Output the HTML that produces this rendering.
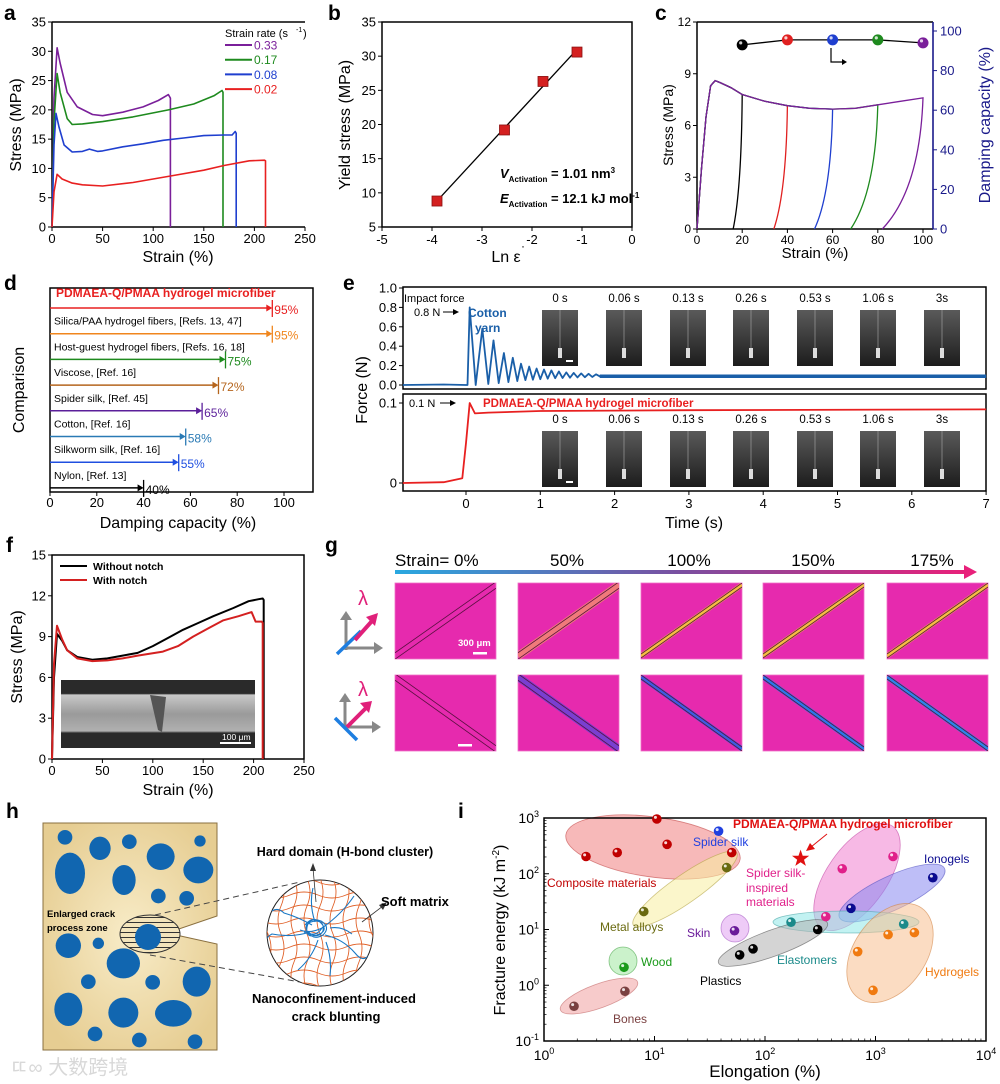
<!DOCTYPE html>
<html><head><meta charset="utf-8"><style>
html,body{margin:0;padding:0;background:#fff}
svg{display:block;font-family:"Liberation Sans","Noto Sans CJK SC",sans-serif}
</style></head><body>
<svg id="fig" xmlns="http://www.w3.org/2000/svg" width="1000" height="1084" viewBox="0 0 1000 1084">
<defs>
<linearGradient id="strainGrad" x1="0" x2="1" y1="0" y2="0"><stop offset="0" stop-color="#29a8e0"/><stop offset="0.5" stop-color="#7a4fa0"/><stop offset="1" stop-color="#e8207a"/></linearGradient>
<radialGradient id="beige" cx="0.5" cy="0.5" r="0.6"><stop offset="0" stop-color="#f8ecc8"/><stop offset="1" stop-color="#e6cd92"/></radialGradient>
<linearGradient id="photo" x1="0" x2="0" y1="0" y2="1"><stop offset="0" stop-color="#5a5a5a"/><stop offset="1" stop-color="#1c1c1c"/></linearGradient>
<linearGradient id="sem" x1="0" x2="0" y1="0" y2="1"><stop offset="0" stop-color="#2a2a2a"/><stop offset="0.2" stop-color="#2a2a2a"/><stop offset="0.22" stop-color="#c8c8c8"/><stop offset="0.5" stop-color="#9a9a9a"/><stop offset="0.75" stop-color="#b0b0b0"/><stop offset="0.78" stop-color="#2a2a2a"/><stop offset="1" stop-color="#2a2a2a"/></linearGradient>
<clipPath id="circClip"><circle cx="320" cy="933" r="53"/></clipPath>
<pattern id="hatch" width="6" height="5" patternUnits="userSpaceOnUse"><rect width="6" height="5" fill="#f3e4bb"/><line x1="0" y1="2.5" x2="6" y2="2.5" stroke="#333" stroke-width="1"/></pattern>
</defs>

<g font-weight="bold" font-size="21" fill="#000">
<text x="4" y="20">a</text>
<text x="328" y="20">b</text>
<text x="655" y="20">c</text>
<text x="4" y="290">d</text>
<text x="343" y="290">e</text>
<text x="6" y="552">f</text>
<text x="325" y="552">g</text>
<text x="6" y="818">h</text>
<text x="458" y="818">i</text>
</g>

<g id="panelG">
<text x="395" y="566" font-size="17">Strain= 0%</text>
<text x="567" y="566" font-size="17" text-anchor="middle">50%</text>
<text x="689" y="566" font-size="17" text-anchor="middle">100%</text>
<text x="813" y="566" font-size="17" text-anchor="middle">150%</text>
<text x="932" y="566" font-size="17" text-anchor="middle">175%</text>
<rect x="395" y="570" width="570" height="4" fill="url(#strainGrad)"/>
<polygon points="964,565 977,572 964,579" fill="#e8207a"/>
<g>
<line x1="346" y1="650" x2="346" y2="618" stroke="#888" stroke-width="3"/><polygon points="340,620 346,611 352,620" fill="#888"/>
<line x1="344" y1="648" x2="376" y2="648" stroke="#888" stroke-width="3"/><polygon points="374,642 383,648 374,654" fill="#888"/>
<line x1="337" y1="654" x2="361" y2="631" stroke="#1e7ee0" stroke-width="3.5"/>
<line x1="355" y1="640" x2="372" y2="621" stroke="#e0207a" stroke-width="4"/><polygon points="366,617 378,613 375,626" fill="#e0207a"/>
<text x="358" y="605" font-size="20" fill="#e0207a">λ</text></g>
<g>
<line x1="345" y1="728" x2="345" y2="700" stroke="#888" stroke-width="3"/><polygon points="339,702 345,693 351,702" fill="#888"/>
<line x1="343" y1="727" x2="374" y2="727" stroke="#888" stroke-width="3"/><polygon points="372,721 381,727 372,733" fill="#888"/>
<line x1="335" y1="718" x2="357" y2="740" stroke="#1e7ee0" stroke-width="3.5"/>
<line x1="347" y1="727" x2="366" y2="708" stroke="#e0207a" stroke-width="4"/><polygon points="360,703 372,701 369,713" fill="#e0207a"/>
<text x="358" y="696" font-size="20" fill="#e0207a">λ</text></g>
</g>

<g id="panelH">
<polygon points="43,823 217,823 217,916 167,933 217,944 217,1050 43,1050" fill="url(#beige)" stroke="#8a7040" stroke-width="1"/>
<g id="blobs" fill="#1166b0"></g>
<ellipse cx="150" cy="934" rx="30" ry="19" fill="url(#hatch)" stroke="#333" stroke-width="1"/>
<ellipse cx="148" cy="937" rx="13" ry="13" fill="#1166b0"/>
<line x1="155" y1="915" x2="300" y2="882" stroke="#444" stroke-dasharray="6,4"/>
<line x1="150" y1="955" x2="300" y2="982" stroke="#444" stroke-dasharray="6,4"/>
<text x="47" y="917" font-size="9.5" font-weight="bold">Enlarged crack</text>
<text x="47" y="931" font-size="9.5" font-weight="bold">process zone</text>
<circle cx="320" cy="933" r="53" fill="#fff" stroke="#222" stroke-width="1"/>
<g id="net" clip-path="url(#circClip)" fill="none" stroke="#e0622a" stroke-width="0.9"></g>
<g clip-path="url(#circClip)" fill="none" stroke="#1877c4" stroke-width="1.1">
<path d="M305,925 q8,-10 16,-2 q8,8 -4,12 q-12,4 -10,-8 q2,-10 14,-6 q10,6 2,14 q-10,6 -16,-4 q-4,-8 8,-10 q10,0 8,10 q-4,8 -14,2 M300,930 q10,4 22,-2 q-6,10 -18,4"/>
<path d="M315,922 q-6,-18 -2,-34 M322,928 q20,-14 32,-32 M325,935 q18,4 30,18 q8,10 14,2 M318,940 q-6,18 -20,30 M310,932 q-18,6 -38,2 q-8,4 -6,12 M312,925 q-14,-8 -28,-12 q-6,-6 -12,-2 M326,942 q6,16 4,34 M330,928 q12,-2 22,6"/>
</g>
<line x1="316" y1="902" x2="313" y2="868" stroke="#333" stroke-width="0.8"/><polygon points="310,871 313,863 316,871" fill="#333"/>
<line x1="362" y1="922" x2="383" y2="906" stroke="#333" stroke-width="0.8"/><polygon points="379,905 387,902 383,910" fill="#333"/>
<text x="345" y="856" font-size="12.5" font-weight="bold" text-anchor="middle">Hard domain (H-bond cluster)</text>
<text x="381" y="906" font-size="13" font-weight="bold">Soft matrix</text>
<text x="334" y="1003" font-size="13" font-weight="bold" text-anchor="middle">Nanoconfinement-induced</text>
<text x="336" y="1021" font-size="13" font-weight="bold" text-anchor="middle">crack blunting</text>
<text x="10" y="1074" font-size="20" fill="#d8d8d8">ㄸ∞ 大数跨境</text>
</g>
</svg>
<script>
const NS='http://www.w3.org/2000/svg';
const svg=document.getElementById('fig');
function mk(tag,attrs,parent){const e=document.createElementNS(NS,tag);for(const k in attrs)e.setAttribute(k,attrs[k]);(parent||svg).appendChild(e);return e;}
function txt(x,y,s,attrs,parent){const t=mk('text',Object.assign({x:x,y:y},attrs||{}),parent);t.textContent=s;return t;}

/* ---------- DATA ---------- */
const aStrain033=[0,2,5,8,15,25,40,50,70,90,105,115,117,117];
const aStress033=[0,22,30.6,28,23,20.5,19.2,19,19.6,20.5,21.6,22.6,22,0];
const aStrain017=[0,2,5,8,15,20,30,50,80,115,140,160,168,169,169];
const aStress017=[0,18,26.2,23,18.5,17.5,17.6,18,18.8,20,21,22.4,23.3,23,0];
const aStrain008=[0,2,4,7,12,20,30,37,45,50,70,90,110,130,150,170,178,181,182,182];
const aStress008=[0,14,19.4,17,14,12.8,12.9,13.3,12.9,13,13.7,14.2,14.8,15.2,15.6,15.7,15.7,16.3,16,0];
const aStrain002=[0,2,5,10,20,30,50,80,120,150,170,195,210,211,211];
const aStress002=[0,6,9,8.2,7.5,7.2,7,7.6,8.8,9.7,10.5,11.3,11.4,11.3,0];
const aLegend=['0.33','0.17','0.08','0.02'];
const aXTicks=[0,50,100,150,200,250];
const aYTicks=[0,5,10,15,20,25,30,35];
const bLnRate=[-3.9,-2.55,-1.78,-1.1];
const bYield=[8.8,19.2,26.3,30.6];
const bXTicks=[-5,-4,-3,-2,-1,0];
const bYTicks=[5,10,15,20,25,30,35];
const cLoadStrain=[0,2,4,6,8,10,15,20,30,40,50,60,70,80,90,100];
const cLoadStress=[0,3.5,6.5,8.3,8.6,8.5,8.2,7.8,7.4,7.15,7.0,6.95,7.0,7.2,7.4,7.6];
const cMaxStrain=[20,40,60,80,100];
const cResidual=[16,34,52,68,82];
const cDamping=[93,95.5,95.5,95.5,94];
const cXTicks=[0,20,40,60,80,100];
const cYTicks=[0,3,6,9,12];
const cRTicks=[0,20,40,60,80,100];
const dLabels=['PDMAEA-Q/PMAA hydrogel microfiber','Silica/PAA hydrogel fibers, [Refs. 13, 47]','Host-guest hydrogel fibers, [Refs. 16, 18]','Viscose, [Ref. 16]','Spider silk, [Ref. 45]','Cotton, [Ref. 16]','Silkworm silk, [Ref. 16]','Nylon, [Ref. 13]'];
const dValues=[95,95,75,72,65,58,55,40];
const dXTicks=[0,20,40,60,80,100];
const eCottonT=[-0.85,-0.3,0,0.02,0.05,0.13,0.22,0.3,0.37,0.44,0.51,0.57,0.63,0.69,0.74,0.8,0.85,0.9,0.95,1.0,1.05,1.1,1.15,1.2,1.25,1.3,1.35,1.4,1.45,1.5,1.55,1.6,1.65,1.7,1.75,1.8,7];
const eCottonF=[0.0,0.005,0.0,0.0,0.8,0.0,0.58,0.01,0.46,0.02,0.33,0.03,0.28,0.04,0.22,0.05,0.19,0.055,0.17,0.06,0.16,0.065,0.15,0.07,0.14,0.072,0.13,0.075,0.125,0.078,0.12,0.08,0.115,0.082,0.11,0.09,0.09];
const eFiberT=[-0.85,-0.3,-0.05,0.0,0.05,0.12,0.3,1,3,7];
const eFiberF=[0,0.001,0.006,0.05,0.1,0.087,0.088,0.09,0.091,0.092];
const eSnapLabels=['0 s','0.06 s','0.13 s','0.26 s','0.53 s','1.06 s','3s'];
const eXTicks=[0,1,2,3,4,5,6,7];
const eYTicksTop=[0,0.2,0.4,0.6,0.8,1.0];
const eYTicksBot=[0,0.1];
const fStrainNo=[0,2,5,10,15,25,40,55,70,85,100,115,130,145,160,180,195,205,209,210,210];
const fStressNo=[0,6,9.2,8.7,8.0,7.5,7.3,7.4,7.6,7.8,8.3,8.9,9.5,10.0,10.5,11.1,11.6,11.75,11.8,11.7,0];
const fStrainNotch=[0,2,5,10,15,25,40,55,70,85,110,125,140,155,170,185,198,202,205,208,209,209];
const fStressNotch=[0,7,9.8,8.8,8.0,7.4,7.2,7.25,7.4,7.6,7.9,8.3,9.0,9.6,10.2,10.5,10.8,10.1,10.1,10.1,10.0,0];
const fXTicks=[0,50,100,150,200,250];
const fYTicks=[0,3,6,9,12,15];
const iClasses=['Composite materials','Spider silk','Metal alloys','Skin','Wood','Bones','Plastics','Elastomers','Spider silk-inspired','Ionogels','Hydrogels'];
const iElong=[[2.4,4.6,10.5,13,50],[38],[45,8],[53],[5.3],[1.87,5.4],[59,78,300],[172,1800],[355,500,1440],[600,3300],[690,1300,2250,950]];
const iEnergy=[[204,240,960,337,240],[580],[129,21],[9.5],[2.1],[0.42,0.78],[3.5,4.5,10],[13.5,12.5],[17,123,204],[24,85],[4.0,8.1,8.8,0.81]];
const iStarElong=[210];
const iStarEnergy=[187];
const iXTicks=[0,1,2,3,4];
const iYTicks=[-1,0,1,2,3];

function polyline(xs,ys,sx,sy,stroke,w,parent){let d='';for(let i=0;i<xs.length;i++){d+=(i?'L':'M')+sx(xs[i]).toFixed(1)+','+sy(ys[i]).toFixed(1);}
  return mk('path',{d:d,fill:'none',stroke:stroke,'stroke-width':w,'stroke-linejoin':'round'},parent);}

/* ---------- panel a ---------- */
(function(){
const g=mk('g',{});


const X0=52,X1=305,Y0=227,Y1=22;
const xa=v=>X0+v*(X1-X0)/250, ya=v=>Y0-v*(Y0-Y1)/35;
const ax=mk('path',{d:`M${X0},${Y1}L${X1},${Y1}M${X0},${Y1}L${X0},${Y0}L${X1},${Y0}`,fill:'none',stroke:'#000','stroke-width':1.5},g);


aXTicks.forEach(v=>{mk('line',{x1:xa(v),x2:xa(v),y1:Y0,y2:Y0+4,stroke:'#000'},g);const t=txt(xa(v),Y0+16,String(v),{'font-size':13,'text-anchor':'middle'},g);

});
aYTicks.forEach(v=>{mk('line',{x1:X0-4,x2:X0,y1:ya(v),y2:ya(v),stroke:'#000'},g);const t=txt(X0-6,ya(v)+4.5,String(v),{'font-size':13,'text-anchor':'end'},g);

});
const xt=txt(178,262,'Strain (%)',{'font-size':16,'text-anchor':'middle'},g);


const yt=txt(0,0,'Stress (MPa)',{'font-size':16,'text-anchor':'middle',transform:`translate(21,125) rotate(-90)`},g);


const cols=['#7a1f9a','#1e8a1e','#1f3fcf','#e82020'];
const sets=[[aStrain033,aStress033],[aStrain017,aStress017],[aStrain008,aStress008],[aStrain002,aStress002]];
sets.forEach((s,i)=>{const p=polyline(s[0],s[1],xa,ya,cols[i],1.6,g);

});
const lt=txt(225,37,'Strain rate (s',{'font-size':11},g);


txt(296,32,'-1',{'font-size':7},g);txt(303,37,')',{'font-size':11},g);
aLegend.forEach((l,i)=>{const y=45+i*14.7;mk('line',{x1:225,x2:252,y1:y,y2:y,stroke:cols[i],'stroke-width':2},g);
const t=txt(254,y+4.5,l,{'font-size':12,fill:cols[i]},g);

});
})();

/* ---------- panel b ---------- */
(function(){
const g=mk('g',{});


const X0=382,X1=632,Y0=227,Y1=22;
const xb=v=>X1+v*(X1-X0)/5, yb=v=>Y0-(v-5)*(Y0-Y1)/30;
const box=mk('rect',{x:X0,y:Y1,width:X1-X0,height:Y0-Y1,fill:'none',stroke:'#000','stroke-width':1.5},g);


bXTicks.forEach(v=>{mk('line',{x1:xb(v),x2:xb(v),y1:Y0,y2:Y0+4,stroke:'#000'},g);const t=txt(xb(v),Y0+17,String(v),{'font-size':13,'text-anchor':'middle'},g);

});
bYTicks.forEach(v=>{mk('line',{x1:X0-4,x2:X0,y1:yb(v),y2:yb(v),stroke:'#000'},g);const t=txt(X0-6,yb(v)+4.5,String(v),{'font-size':13,'text-anchor':'end'},g);

});
const xt=txt(506,262,'Ln ε',{'font-size':16,'text-anchor':'middle'},g);


txt(521,250,'·',{'font-size':12},g);
const yt=txt(0,0,'Yield stress (MPa)',{'font-size':16,'text-anchor':'middle',transform:`translate(350,125) rotate(-90)`},g);


const n=bLnRate.length;let mx=0,my=0;for(let i=0;i<n;i++){mx+=bLnRate[i];my+=bYield[i];}mx/=n;my/=n;
let sxy=0,sxx=0;for(let i=0;i<n;i++){sxy+=(bLnRate[i]-mx)*(bYield[i]-my);sxx+=(bLnRate[i]-mx)**2;}
const k=sxy/sxx,b0=my-k*mx;const xa=Math.min(...bLnRate),xz=Math.max(...bLnRate);
const fit=mk('line',{x1:xb(xa),y1:yb(k*xa+b0),x2:xb(xz),y2:yb(k*xz+b0),stroke:'#000','stroke-width':1.3},g);


for(let i=0;i<n;i++){const r=mk('rect',{x:xb(bLnRate[i])-5,y:yb(bYield[i])-5,width:10,height:10,fill:'#d42020',stroke:'#8a1010','stroke-width':0.8},g);

}
const t1=mk('text',{x:500,y:178,'font-size':13,'font-weight':'bold'},g);


t1.innerHTML='<tspan font-style="italic">V</tspan><tspan font-size="8" dy="4">Activation</tspan><tspan dy="-4"> = 1.01 nm</tspan><tspan font-size="8" dy="-5">3</tspan>';
const t2=mk('text',{x:500,y:203,'font-size':13,'font-weight':'bold'},g);


t2.innerHTML='<tspan font-style="italic">E</tspan><tspan font-size="8" dy="4">Activation</tspan><tspan dy="-4"> = 12.1 kJ mol</tspan><tspan font-size="8" dy="-5">-1</tspan>';
})();

/* ---------- panel c ---------- */
(function(){
const g=mk('g',{});


const X0=697,X1=923,XR=933,Y0=229,Y1=22;
const xc=v=>X0+v*(X1-X0)/100, yc=v=>Y0-v*(Y0-Y1)/12, yr=v=>Y0-v*1.98;
mk('path',{d:`M${X0},${Y1}L${XR},${Y1}M${X0},${Y1}L${X0},${Y0}L${XR},${Y0}`,fill:'none',stroke:'#000','stroke-width':1.5},g);
const ra=mk('line',{x1:XR,x2:XR,y1:Y1,y2:Y0,stroke:'#1a1a8a','stroke-width':1.6},g);


cXTicks.forEach(v=>{mk('line',{x1:xc(v),x2:xc(v),y1:Y0,y2:Y0+4,stroke:'#000'},g);const t=txt(xc(v),Y0+15,String(v),{'font-size':12,'text-anchor':'middle'},g);

});
cYTicks.forEach(v=>{mk('line',{x1:X0-4,x2:X0,y1:yc(v),y2:yc(v),stroke:'#000'},g);const t=txt(X0-6,yc(v)+4,String(v),{'font-size':12,'text-anchor':'end'},g);

});
cRTicks.forEach(v=>{mk('line',{x1:XR,x2:XR+4,y1:yr(v),y2:yr(v),stroke:'#1a1a8a'},g);const t=txt(XR+7,yr(v)+4.5,String(v),{'font-size':13,fill:'#1a1a8a'},g);

});
const xt=txt(815,258,'Strain (%)',{'font-size':15,'text-anchor':'middle'},g);


const yt=txt(0,0,'Stress (MPa)',{'font-size':14,'text-anchor':'middle',transform:`translate(673,125) rotate(-90)`},g);


const rt=txt(0,0,'Damping capacity (%)',{'font-size':16,'text-anchor':'middle',fill:'#1a1a8a',transform:`translate(990,125) rotate(-90)`},g);


const cols=['#000','#e02020','#1f3fcf','#1e8a1e','#7a1f9a'];
function interp(x){for(let i=1;i<cLoadStrain.length;i++){if(x<=cLoadStrain[i]){const t=(x-cLoadStrain[i-1])/(cLoadStrain[i]-cLoadStrain[i-1]);return cLoadStress[i-1]+t*(cLoadStress[i]-cLoadStress[i-1]);}}return cLoadStress[cLoadStress.length-1];}
cMaxStrain.forEach((m,i)=>{let d='';const xs=cLoadStrain.filter(v=>v<m).concat([m]);xs.forEach((v,j)=>{d+=(j?'L':'M')+xc(v).toFixed(1)+','+yc(interp(v)).toFixed(1);});
const s=interp(m);d+=`Q${xc(m-(m-cResidual[i])*0.08)},${yc(s*0.3)} ${xc(cResidual[i])},${yc(0)}`;
const p=mk('path',{d:d,fill:'none',stroke:cols[i],'stroke-width':1.3},g);

});
let d='';cMaxStrain.forEach((m,i)=>{d+=(i?'L':'M')+xc(m)+','+yr(cDamping[i]);});
const dl=mk('path',{d:d,fill:'none',stroke:'#000','stroke-width':1.3},g);


cMaxStrain.forEach((m,i)=>{const c=mk('circle',{cx:xc(m),cy:yr(cDamping[i]),r:5.5,fill:cols[i]},g);


mk('circle',{cx:xc(m)-1.5,cy:yr(cDamping[i])-2,r:1.6,fill:'#fff',opacity:0.8},g);});
mk('path',{d:`M831,48L831,62L843,62`,fill:'none',stroke:'#000','stroke-width':1.2},g);
mk('polygon',{points:'842,59 847,62 842,65',fill:'#000'},g);
})();

/* ---------- panel d ---------- */
(function(){
const g=mk('g',{});


const X0=50,XR=313,Y0=492,Y1=288;
const xd=v=>X0+v*2.34;
const box=mk('rect',{x:X0,y:Y1,width:XR-X0,height:Y0-Y1,fill:'none',stroke:'#000','stroke-width':1.5},g);


dXTicks.forEach(v=>{mk('line',{x1:xd(v),x2:xd(v),y1:Y0,y2:Y0+4,stroke:'#000'},g);const t=txt(xd(v),Y0+15,String(v),{'font-size':13,'text-anchor':'middle'},g);

});
const xt=txt(178,528,'Damping capacity (%)',{'font-size':16,'text-anchor':'middle'},g);


const yt=txt(0,0,'Comparison',{'font-size':16,'text-anchor':'middle',transform:`translate(24,390) rotate(-90)`},g);


const cols=['#e82020','#f0861d','#1e8a1e','#b5651d','#5b1f9a','#2a7ab5','#1f4fe0','#000'];
dValues.forEach((v,i)=>{const y=308+i*25.7;const x=xd(v);
const l=mk('line',{x1:X0,x2:x-5,y1:y,y2:y,stroke:cols[i],'stroke-width':1.5},g);


mk('polygon',{points:`${x-6},${y-3.5} ${x},${y} ${x-6},${y+3.5}`,fill:cols[i]},g);
mk('line',{x1:x,x2:x,y1:y-8,y2:y+9,stroke:cols[i],'stroke-width':1.3},g);
const p=txt(x+2,y+6,v+'%',{'font-size':12,fill:cols[i]},g);


const t=txt(i?54:56,y-(i?9:11),dLabels[i],i?{'font-size':10.5}:{'font-size':12,'font-weight':'bold',fill:'#e82020'},g);

});
})();

/* ---------- panel e ---------- */
(function(){
const g=mk('g',{});


const X0=403,X1=986;
const xe=v=>466+v*74.3;
const yTop=v=>385-v*97, yBot=v=>483-v*800;
const b1=mk('rect',{x:X0,y:287,width:X1-X0,height:102,fill:'none',stroke:'#000','stroke-width':1.5},g);


const b2=mk('rect',{x:X0,y:394,width:X1-X0,height:97,fill:'none',stroke:'#000','stroke-width':1.5},g);


eXTicks.forEach(v=>{mk('line',{x1:xe(v),x2:xe(v),y1:491,y2:495,stroke:'#000'},g);const t=txt(xe(v),508,String(v),{'font-size':13,'text-anchor':'middle'},g);

});
eYTicksTop.forEach(v=>{mk('line',{x1:X0-4,x2:X0,y1:yTop(v),y2:yTop(v),stroke:'#000'},g);const t=txt(X0-6,yTop(v)+4.5,v.toFixed(1),{'font-size':13,'text-anchor':'end'},g);

});
eYTicksBot.forEach(v=>{mk('line',{x1:X0-4,x2:X0,y1:yBot(v),y2:yBot(v),stroke:'#000'},g);const t=txt(X0-6,yBot(v)+4.5,String(v),{'font-size':13,'text-anchor':'end'},g);

});
const xt=txt(694,528,'Time (s)',{'font-size':16,'text-anchor':'middle'},g);


const yt=txt(0,0,'Force (N)',{'font-size':16,'text-anchor':'middle',transform:`translate(367,390) rotate(-90)`},g);


const c1=polyline(eCottonT,eCottonF,xe,yTop,'#1a5fa8',1.8,g);


const nT=eCottonT.length;
const tail=mk('line',{x1:xe(eCottonT[nT-2]),x2:xe(eCottonT[nT-1]),y1:yTop(eCottonF[nT-2]),y2:yTop(eCottonF[nT-1]),stroke:'#1a5fa8','stroke-width':3.5},g);


const c2=polyline(eFiberT,eFiberF,xe,yBot,'#e82020',1.8,g);


txt(404,302,'Impact force',{'font-size':11},g);
txt(414,316,'0.8 N',{'font-size':11},g);
mk('line',{x1:443,x2:455,y1:312,y2:312,stroke:'#000'},g);mk('polygon',{points:'453,309 459,312 453,315',fill:'#000'},g);
const cy=txt(468,317,'Cotton',{'font-size':12,'font-weight':'bold',fill:'#1a5fa8'},g);


txt(475,332,'yarn',{'font-size':12,'font-weight':'bold',fill:'#1a5fa8'},g);
txt(409,407,'0.1 N',{'font-size':11},g);
mk('line',{x1:440,x2:452,y1:403,y2:403,stroke:'#000'},g);mk('polygon',{points:'450,400 456,403 450,406',fill:'#000'},g);
const fl=txt(483,407,'PDMAEA-Q/PMAA hydrogel microfiber',{'font-size':11.5,'font-weight':'bold',fill:'#e82020'},g);


const px=[542,606,670,733,797,860,924];
[[310,302],[431,423]].forEach((r,ri)=>{eSnapLabels.forEach((l,i)=>{
const rr=mk('rect',{x:px[i],y:r[0],width:36,height:56,fill:'url(#photo)'},g);


mk('line',{x1:px[i]+18,x2:px[i]+18,y1:r[0],y2:r[0]+40,stroke:'#aaa','stroke-width':0.6},g);
mk('rect',{x:px[i]+16,y:r[0]+38,width:4,height:10,fill:'#ddd'},g);
if(i===0)mk('rect',{x:px[i]+24,y:r[0]+50,width:7,height:2,fill:'#fff'},g);
const t=txt(px[i]+18,r[1],l,{'font-size':11.5,'text-anchor':'middle'},g);

});});
})();

/* ---------- panel f ---------- */
(function(){
const g=mk('g',{});


const X0=52,X1=304,Y0=759,Y1=555;
const xf=v=>X0+v*(X1-X0)/250, yf=v=>Y0-v*(Y0-Y1)/15;
const box=mk('rect',{x:X0,y:Y1,width:X1-X0,height:Y0-Y1,fill:'none',stroke:'#000','stroke-width':1.5},g);


fXTicks.forEach(v=>{mk('line',{x1:xf(v),x2:xf(v),y1:Y0,y2:Y0+4,stroke:'#000'},g);const t=txt(xf(v),Y0+16,String(v),{'font-size':13,'text-anchor':'middle'},g);

});
fYTicks.forEach(v=>{mk('line',{x1:X0-4,x2:X0,y1:yf(v),y2:yf(v),stroke:'#000'},g);const t=txt(X0-6,yf(v)+4.5,String(v),{'font-size':13,'text-anchor':'end'},g);

});
const xt=txt(178,795,'Strain (%)',{'font-size':16,'text-anchor':'middle'},g);


const yt=txt(0,0,'Stress (MPa)',{'font-size':16,'text-anchor':'middle',transform:`translate(22,657) rotate(-90)`},g);


const sem=mk('rect',{x:61,y:680,width:194,height:68,fill:'url(#sem)'},g);


mk('path',{d:'M150,695 L158,730 L162,732 L166,697 Z',fill:'#555'},g);
mk('rect',{x:220,y:742,width:31,height:2,fill:'#fff'},g);
txt(222,740,'100 μm',{'font-size':8.5,fill:'#fff'},g);
const p1=polyline(fStrainNo,fStressNo,xf,yf,'#000',2,g);


const p2=polyline(fStrainNotch,fStressNotch,xf,yf,'#d42020',2,g);


mk('line',{x1:60,x2:87,y1:566,y2:566,stroke:'#000','stroke-width':2},g);
mk('line',{x1:60,x2:87,y1:580,y2:580,stroke:'#d42020','stroke-width':2},g);
const l1=txt(93,570,'Without notch',{'font-size':10.5,'font-weight':'bold'},g);


const l2=txt(93,584,'With notch',{'font-size':10.5,'font-weight':'bold'},g);


})();

/* ---------- panel g cells ---------- */
(function(){
const g=document.getElementById('panelG');
const cx=[395,518,641,763,887];
const topFill=['none','#f07a7a','#f3c040','#f3c040','#f3c040'];
const botFill=['none','#7a3fd0','#3c5fe0','#2a7ae8','#2a88e8'];
[[583,1],[675,-1]].forEach((r,ri)=>{cx.forEach((x,i)=>{
const rr=mk('rect',{x:x,y:r[0],width:101,height:76,fill:'#e62aae',stroke:'#f070c8','stroke-width':0.8},g);


const w=i===0?8:(i===1?8:5);const col=ri===0?topFill[i]:botFill[i];
let x1=x,x2=x+101,y1,y2;if(ri===0){y1=r[0]+73;y2=r[0]+2;}else{y1=r[0]+2;y2=r[0]+74;}
const cp='cl'+ri+i;const clip=mk('clipPath',{id:cp},g);mk('rect',{x:x,y:r[0],width:101,height:76},clip);
const gg=mk('g',{'clip-path':`url(#${cp})`},g);
if(col!=='none')mk('line',{x1:x1,y1:y1,x2:x2,y2:y2,stroke:col,'stroke-width':w},gg);
mk('line',{x1:x1,y1:y1+(ri===0?-w/2:w/2)*0.8,x2:x2,y2:y2+(ri===0?-w/2:w/2)*0.8,stroke:'#5a1040','stroke-width':0.8},gg);
mk('line',{x1:x1,y1:y1-(ri===0?-w/2:w/2)*0.8,x2:x2,y2:y2-(ri===0?-w/2:w/2)*0.8,stroke:'#5a1040','stroke-width':0.8},gg);
});});
txt(458,646,'300 μm',{'font-size':9.5,'font-weight':'bold',fill:'#fff'},g);
mk('rect',{x:473,y:652,width:14,height:2.5,fill:'#fff'},g);
mk('rect',{x:458,y:744,width:14,height:2.5,fill:'#fff'},g);
})();

/* ---------- panel h blobs & network ---------- */
(function(){
const b=document.getElementById('blobs');
const B=[[195,172,22,22],[300,205,32,35],[388,185,22,22],[600,183,17,17],[210,280,45,62],[482,230,42,40],[595,270,45,40],[372,300,35,45],[475,348,22,22],[560,355,22,22],[205,497,38,37],[295,490,17,17],[395,438,17,17],[370,550,50,45],[265,605,22,22],[458,607,22,22],[590,605,42,45],[205,688,42,50],[370,698,45,45],[520,700,55,40],[285,762,22,22],[418,780,22,22],[585,785,22,22]];
B.forEach(q=>{mk('ellipse',{cx:q[0]/3,cy:780+q[1]/3,rx:q[2]/3,ry:q[3]/3},b);});
const n=document.getElementById('net');
for(let k=0;k<9;k++){const x=268+k*13;mk('path',{d:`M${x},878 q6,14 0,28 q-6,14 0,28 q6,14 0,28 q-6,14 0,28`},n);}
for(let k=0;k<9;k++){const y=882+k*13;mk('path',{d:`M262,${y} q14,6 28,0 q14,-6 28,0 q14,6 28,0 q14,-6 28,0`},n);}
})();

/* ---------- panel i ---------- */
(function(){
const g=mk('g',{});


const X0=544,X1=986,Y0=1041,Y1=818;
const xi=v=>X0+Math.log10(v)*110.5, yi=v=>Y1+(3-Math.log10(v))*55.75;
const regions=[
 ['Composite materials',653,847,88,30,8,'#f08080','#c04040'],
 ['Metal alloys',685,889,63,14,-35,'#f8eea0','#b0a040'],
 ['Spider silk-inspired',857,877,62,30,-55,'#f080d0','#c040a0'],
 ['Ionogels',892,893,58,17,-25,'#8888f0','#5050c0'],
 ['Elastomers',846,922,73,11,0,'#90e8e8','#40a0a0'],
 ['Plastics',773,943,58,13,-20,'#b0b0b0','#505050'],
 ['Hydrogels',890,953,55,36,-55,'#f8c090','#d08040'],
 ['Skin',735,928,14,14,0,'#e0a0f0','#a050c0'],
 ['Wood',623,961,14,14,0,'#a0e8a0','#40a040'],
 ['Bones',599,996,41,12,-20,'#f0a0a0','#c06060']];
regions.forEach(r=>{const e=mk('ellipse',{cx:r[1],cy:r[2],rx:r[3],ry:r[4],transform:`rotate(${r[5]} ${r[1]} ${r[2]})`,fill:r[6],'fill-opacity':0.55,stroke:r[7],'stroke-opacity':0.6,'stroke-width':0.8},g);

});
const ax=mk('rect',{x:X0,y:Y1,width:X1-X0,height:Y0-Y1,fill:'none',stroke:'#000','stroke-width':1.5},g);


iXTicks.forEach(p=>{const x=xi(10**p);mk('line',{x1:x,x2:x,y1:Y0,y2:Y0-5,stroke:'#000'},g);
if(p<4)for(let m=2;m<10;m++){const xm=xi(m*10**p);mk('line',{x1:xm,x2:xm,y1:Y0,y2:Y0-2.5,stroke:'#000','stroke-width':0.7},g);}
const t=mk('text',{x:x,y:Y0+19,'font-size':14,'text-anchor':'middle'},g);t.innerHTML=`10<tspan font-size="9" dy="-6">${p}</tspan>`;

});
iYTicks.forEach(p=>{const y=yi(10**p);mk('line',{x1:X0,x2:X0+5,y1:y,y2:y,stroke:'#000'},g);
if(p<3)for(let m=2;m<10;m++){const ym=yi(m*10**p);mk('line',{x1:X0,x2:X0+2.5,y1:ym,y2:ym,stroke:'#000','stroke-width':0.7},g);}
const t=mk('text',{x:X0-5,y:y+5,'font-size':14,'text-anchor':'end'},g);t.innerHTML=`10<tspan font-size="9" dy="-6">${p}</tspan>`;

});
const xt=txt(765,1077,'Elongation (%)',{'font-size':17,'text-anchor':'middle'},g);


const yt=mk('text',{'font-size':16,'text-anchor':'middle',transform:`translate(505,930) rotate(-90)`},g);
yt.innerHTML='Fracture energy (kJ m<tspan font-size="10" dy="-6">-2</tspan><tspan dy="6">)</tspan>';


const cols=['#c00000','#2040e0','#6a6a10','#6a1a9a','#1a9a1a','#7a4040','#000','#1a8a8a','#e0208a','#0a0a90','#f07a10'];
iElong.forEach((arr,c)=>{arr.forEach((v,j)=>{const cc=mk('circle',{cx:xi(v),cy:yi(iEnergy[c][j]),r:4.8,fill:cols[c]},g);


mk('circle',{cx:xi(v)-1.4,cy:yi(iEnergy[c][j])-1.6,r:1.5,fill:'#fff',opacity:0.85},g);});});
const sx=xi(iStarElong[0]),sy=yi(iStarEnergy[0]);let sp='';for(let k=0;k<10;k++){const r=k%2?3.6:9,a=-Math.PI/2+k*Math.PI/5;sp+=(sx+r*Math.cos(a)).toFixed(1)+','+(sy+r*Math.sin(a)).toFixed(1)+' ';}
const st=mk('polygon',{points:sp,fill:'#e01010'},g);


mk('line',{x1:827,y1:834,x2:811,y2:847,stroke:'#e01010','stroke-width':1},g);mk('polygon',{points:'806,851 810,843 815,849',fill:'#e01010'},g);
const labs=[['Composite materials',547,887,'#c00000'],['Spider silk',693,846,'#2040e0'],['Metal alloys',600,931,'#6a6a10'],['Skin',687,937,'#6a1a9a'],['Wood',641,966,'#1a9a1a'],['Plastics',700,985,'#000'],['Bones',613,1023,'#7a4040'],['Elastomers',777,964,'#1a8a8a'],['Hydrogels',925,976,'#f07a10'],['Ionogels',924,863,'#0a0a90'],['Spider silk-',746,877,'#e0208a'],['inspired',746,892,'#e0208a'],['materials',746,906,'#e0208a']];
labs.forEach(l=>{const t=txt(l[1],l[2],l[0],{'font-size':12,fill:l[3]},g);

});
const tl=txt(733,828,'PDMAEA-Q/PMAA hydrogel microfiber',{'font-size':12,'font-weight':'bold',fill:'#e01010'},g);


})();
</script>
</body></html>
